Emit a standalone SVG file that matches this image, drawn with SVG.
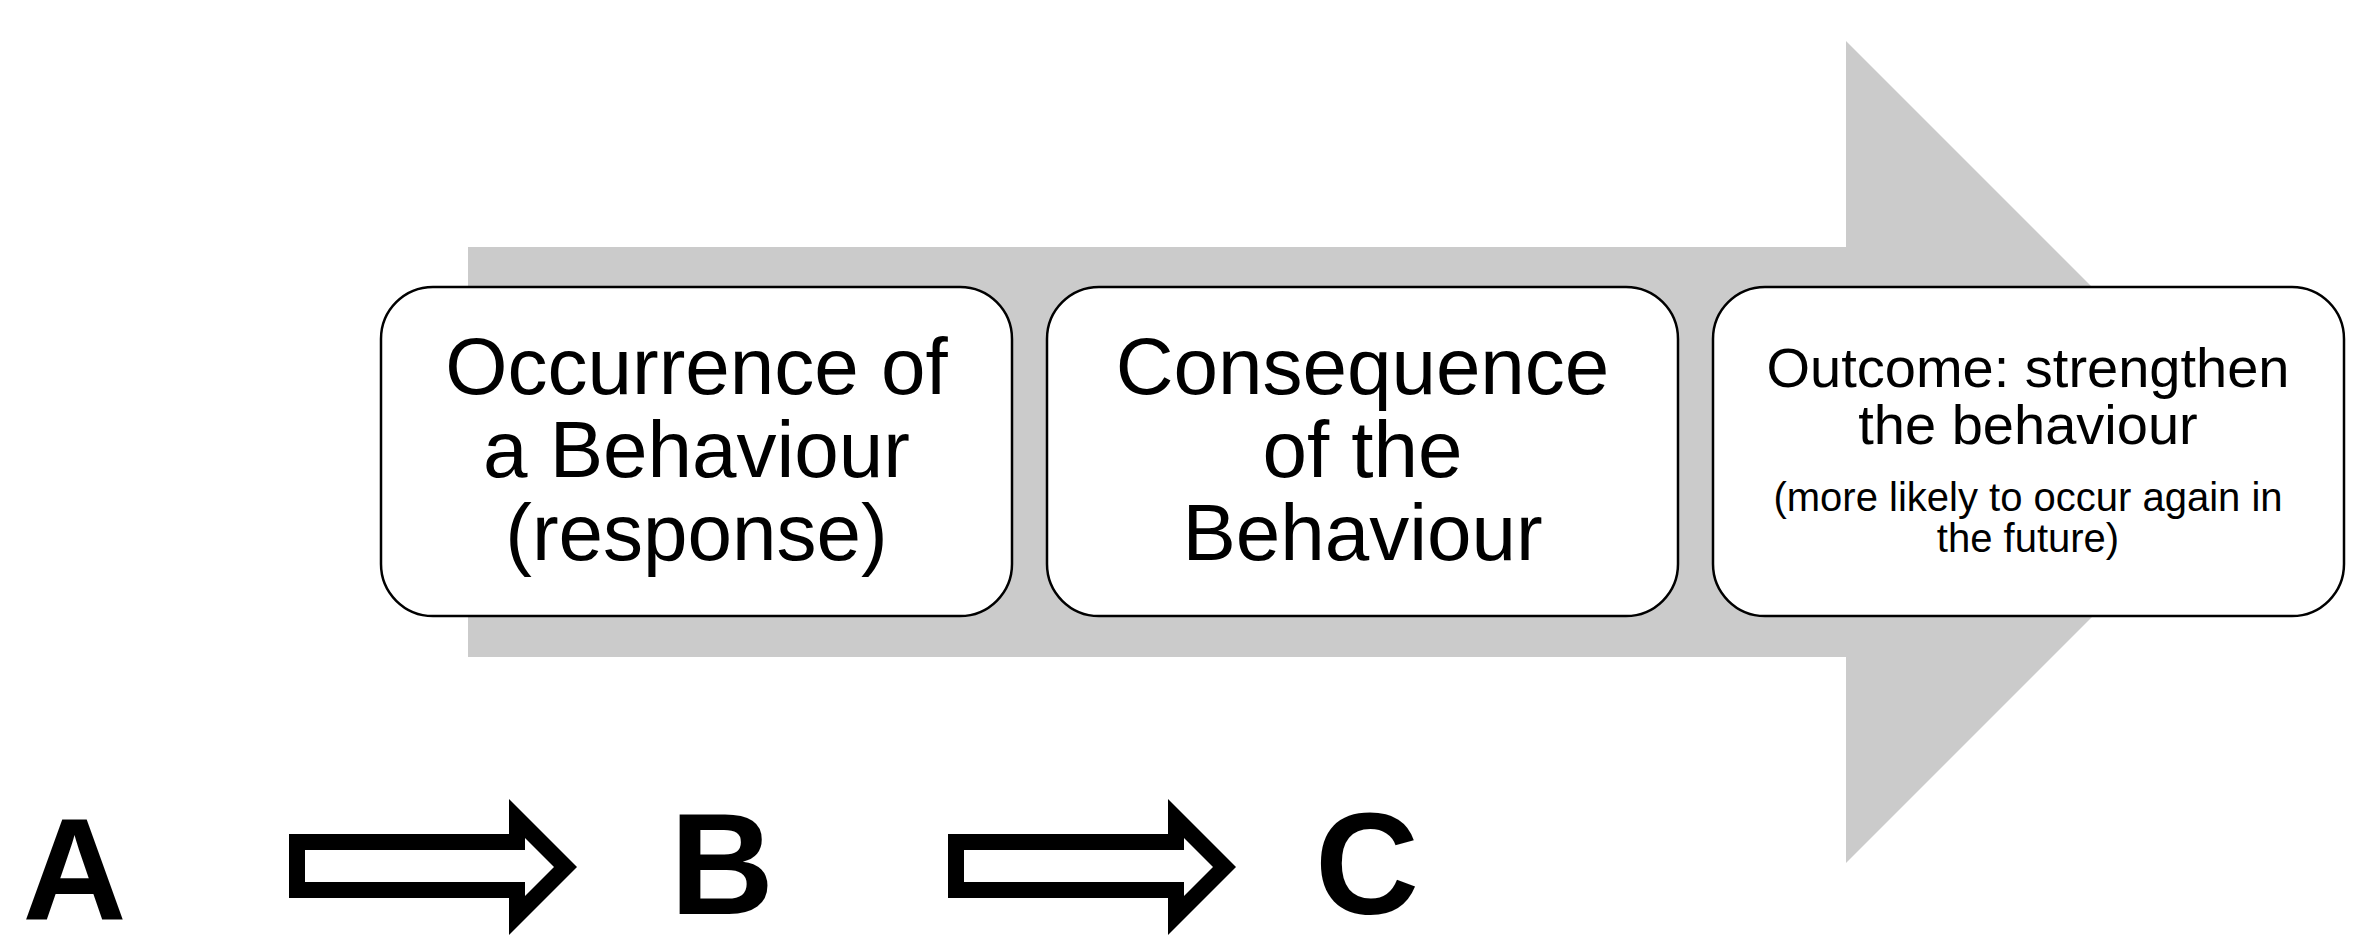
<svg xmlns="http://www.w3.org/2000/svg" xmlns:xlink="http://www.w3.org/1999/xlink" width="2362" height="950" viewBox="0 0 2362 950">
<style>
.box{fill:#ffffff;stroke:#000000;stroke-width:2.5}
.big{font-family:"Liberation Sans",Arial,sans-serif;font-size:80px;fill:#000;text-anchor:middle}
.mid{font-family:"Liberation Sans",Arial,sans-serif;font-size:56px;fill:#000;text-anchor:middle}
.small{font-family:"Liberation Sans",Arial,sans-serif;font-size:40px;fill:#000;text-anchor:middle}
.letter{font-family:"Liberation Sans",Arial,sans-serif;font-size:144px;font-weight:bold;fill:#000;text-anchor:middle}
</style>
<defs>
<path id="hollowArrow" fill="#000" fill-rule="evenodd" d="M289,834 H509 V799 L577,867 L509,935 V898 H289 Z M305,850 V882 H525 V896 L554,867 L525,838 V850 Z"/>
</defs>
<rect width="2362" height="950" fill="#ffffff"/>
<g id="background-arrow">
<polygon points="468,247 1846,247 1846,41 2257,452 1846,863 1846,657 468,657" fill="#cbcbcb"/>
</g>
<g id="node-behaviour">
<rect class="box" x="381" y="287" width="631" height="329" rx="52" ry="52"/>
<text class="big" x="696.5" y="394">Occurrence of</text>
<text class="big" x="696.5" y="477">a Behaviour</text>
<text class="big" x="696.5" y="560">(response)</text>
</g>
<g id="node-consequence">
<rect class="box" x="1047" y="287" width="631" height="329" rx="52" ry="52"/>
<text class="big" x="1362.5" y="394">Consequence</text>
<text class="big" x="1362.5" y="477">of the</text>
<text class="big" x="1362.5" y="560">Behaviour</text>
</g>
<g id="node-outcome">
<rect class="box" x="1713" y="287" width="631" height="329" rx="52" ry="52"/>
<text class="mid" x="2028" y="387">Outcome: strengthen</text>
<text class="mid" x="2028" y="444">the behaviour</text>
<text class="small" x="2028" y="511">(more likely to occur again in</text>
<text class="small" x="2028" y="552">the future)</text>
</g>
<g id="node-A"><text class="letter" x="74.5" y="919">A</text></g>
<g id="node-B"><text class="letter" x="722" y="914">B</text></g>
<g id="node-C"><text class="letter" x="1367" y="914">C</text></g>
<g id="connectors">
<use xlink:href="#hollowArrow"/>
<use xlink:href="#hollowArrow" transform="translate(659,0)"/>
</g>
</svg>
